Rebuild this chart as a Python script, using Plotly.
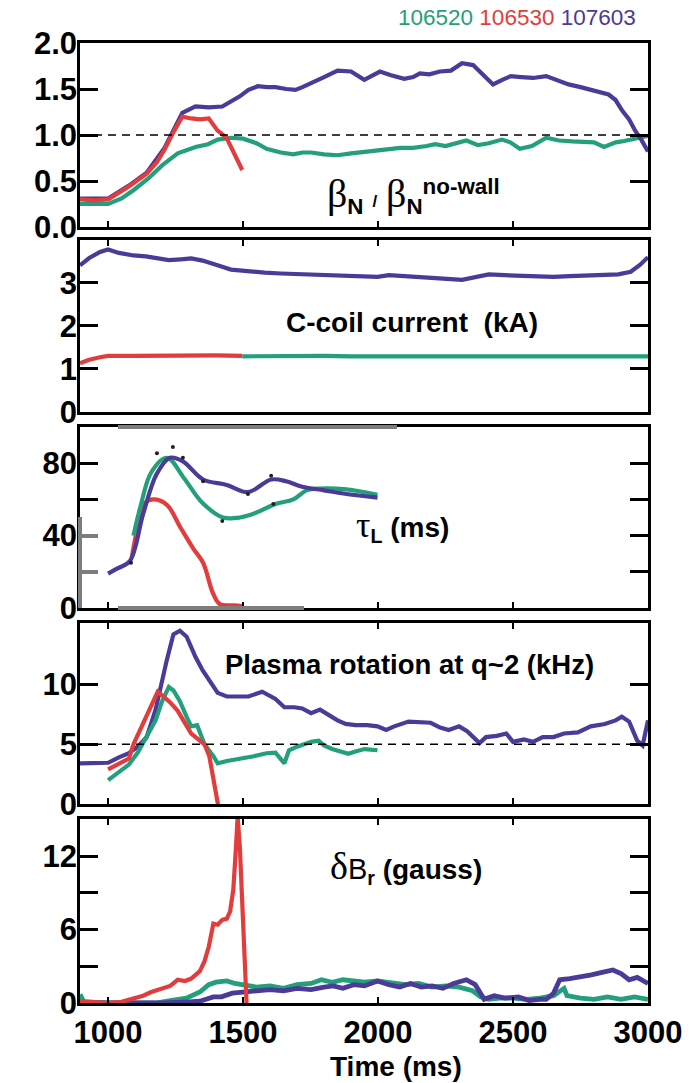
import plotly.graph_objects as go

# ---------------- shot colours ----------------
GREEN = "#23a07b"    # 106520
RED = "#e23d3d"      # 106530
PURPLE = "#4b3a97"   # 107603

# ---------------- panel 1: beta_N / beta_N(no-wall) ----------------
beta_green_t = [896, 1000, 1050, 1094, 1150, 1200, 1258, 1324, 1370, 1406, 1455, 1500, 1550, 1587,
                1640, 1686, 1720, 1752, 1800, 1850, 1900, 1949, 2000, 2050, 2081, 2130, 2180, 2212,
                2250, 2290, 2327, 2370, 2410, 2459, 2490, 2525, 2570, 2623, 2670, 2720, 2770, 2800,
                2837, 2880, 2903, 2950, 3000]
beta_green = [0.25, 0.25, 0.31, 0.40, 0.53, 0.67, 0.80, 0.87, 0.90, 0.95, 0.97, 0.96, 0.91, 0.85,
              0.81, 0.79, 0.81, 0.81, 0.79, 0.78, 0.80, 0.82, 0.83, 0.85, 0.86, 0.86, 0.88, 0.90,
              0.88, 0.91, 0.94, 0.89, 0.91, 0.95, 0.92, 0.85, 0.88, 0.97, 0.94, 0.93, 0.93, 0.92,
              0.87, 0.92, 0.93, 0.96, 0.99]

beta_red_t = [896, 950, 1000, 1040, 1077, 1110, 1143, 1180, 1209, 1240, 1275, 1308, 1340, 1373,
              1405, 1439, 1470, 1497]
beta_red = [0.30, 0.29, 0.30, 0.37, 0.44, 0.51, 0.58, 0.70, 0.84, 1.02, 1.20, 1.18, 1.17, 1.18,
            1.05, 0.97, 0.78, 0.62]

beta_purple_t = [896, 1000, 1077, 1143, 1209, 1250, 1275, 1324, 1373, 1423, 1455, 1488, 1520, 1554,
                 1590, 1620, 1660, 1694, 1720, 1752, 1800, 1850, 1900, 1949, 1980, 2007, 2048, 2097,
                 2130, 2155, 2190, 2229, 2270, 2311, 2352, 2390, 2426, 2460, 2492, 2530, 2574, 2623,
                 2660, 2706, 2750, 2788, 2820, 2854, 2880, 2903, 2930, 2952, 2975, 3000]
beta_purple = [0.31, 0.31, 0.45, 0.59, 0.86, 1.10, 1.24, 1.31, 1.30, 1.31, 1.36, 1.42, 1.49, 1.53,
               1.52, 1.52, 1.50, 1.49, 1.52, 1.56, 1.63, 1.70, 1.69, 1.60, 1.65, 1.69, 1.65, 1.61,
               1.63, 1.67, 1.66, 1.69, 1.70, 1.78, 1.76, 1.65, 1.55, 1.60, 1.64, 1.63, 1.62, 1.64,
               1.60, 1.55, 1.52, 1.49, 1.47, 1.44, 1.38, 1.27, 1.17, 1.05, 0.95, 0.82]

# ---------------- panel 2: C-coil current (kA) ----------------
coil_purple_t = [896, 930, 970, 1000, 1040, 1094, 1140, 1180, 1225, 1270, 1308, 1350, 1390, 1420,
                 1455, 1521, 1580, 1640, 1700, 1752, 1810, 1870, 1930, 1998, 2040, 2100, 2160, 2220,
                 2270, 2311, 2350, 2410, 2470, 2530, 2590, 2650, 2710, 2770, 2830, 2890, 2936, 2970,
                 3000]
coil_purple = [3.41, 3.58, 3.72, 3.78, 3.70, 3.64, 3.62, 3.58, 3.53, 3.55, 3.57, 3.52, 3.45, 3.38,
               3.31, 3.26, 3.24, 3.22, 3.21, 3.20, 3.18, 3.17, 3.15, 3.14, 3.18, 3.16, 3.15, 3.12,
               3.09, 3.07, 3.12, 3.20, 3.18, 3.16, 3.14, 3.14, 3.16, 3.18, 3.18, 3.20, 3.26, 3.42,
               3.60]

coil_red_t = [896, 930, 970, 1000, 1100, 1200, 1300, 1400, 1497]
coil_red = [1.13, 1.21, 1.27, 1.30, 1.30, 1.31, 1.30, 1.31, 1.30]

coil_green_t = [1497, 1600, 1700, 1800, 1900, 2000, 2100, 2200, 2300, 2400, 2500, 2600, 2700,
                2800, 2900, 3000]
coil_green = [1.29, 1.30, 1.29, 1.30, 1.29, 1.29, 1.30, 1.29, 1.30, 1.29, 1.29, 1.30, 1.29,
              1.29, 1.30, 1.29]

# ---------------- panel 3: tau_L (ms) ----------------
tau_purple_t = [1000, 1037, 1081, 1130, 1180, 1229, 1277, 1352, 1440, 1518, 1604, 1660, 1719,
                1800, 1883, 1998]
tau_purple = [19, 22, 26, 52, 74, 83, 81, 71, 68, 64, 71, 70, 67, 65, 63, 61]

tau_green_t = [1094, 1120, 1160, 1218, 1280, 1350, 1426, 1488, 1554, 1620, 1686, 1735, 1785,
               1883, 1998]
tau_green = [40, 56, 75, 83, 72, 58, 50, 50, 53, 57.5, 60, 65, 66, 65.5, 62.5]

tau_red_t = [1088, 1110, 1137, 1167, 1218, 1266, 1315, 1352, 1389, 1415, 1467, 1497]
tau_red = [28, 45, 58, 60, 57, 45, 33, 25, 8, 2, 1.5, 1]

tau_points_t = [1085, 1181, 1240, 1277, 1352, 1423, 1518, 1604, 1612]
tau_points = [25, 85.5, 89, 83, 70, 48, 63, 73, 57.5]

# ---------------- panel 4: plasma rotation at q~2 (kHz) ----------------
rot_purple_t = [896, 950, 1000, 1040, 1077, 1110, 1143, 1176, 1200, 1217, 1242, 1266, 1291, 1324,
                1350, 1373, 1406, 1440, 1480, 1520, 1571, 1600, 1620, 1653, 1690, 1719, 1752, 1785,
                1820, 1850, 1880, 1916, 1960, 1998, 2030, 2060, 2113, 2160, 2195, 2230, 2262, 2300,
                2330, 2376, 2400, 2440, 2475, 2500, 2540, 2574, 2610, 2650, 2689, 2740, 2788, 2840,
                2880, 2903, 2930, 2960, 2980, 3000]
rot_purple = [3.4, 3.4, 3.45, 3.9, 4.25, 4.8, 5.6, 7.9, 10.5, 12.0, 14.2, 14.5, 14.0, 12.3,
              11.2, 10.4, 9.3, 9.0, 9.0, 9.0, 9.4, 9.1, 8.8, 8.1, 8.1, 8.0, 7.6, 7.9,
              7.4, 7.0, 6.7, 6.6, 6.6, 6.5, 6.2, 6.5, 6.9, 6.8, 6.8, 6.4, 6.2, 6.5,
              6.1, 5.1, 5.6, 5.7, 5.9, 5.2, 5.4, 5.2, 5.6, 5.6, 5.9, 6.0, 6.5, 6.7,
              7.0, 7.3, 6.9, 5.3, 4.9, 7.0]

rot_green_t = [1000, 1040, 1077, 1110, 1143, 1176, 1200, 1225, 1242, 1266, 1291, 1308, 1330, 1357,
               1390, 1406, 1440, 1470, 1500, 1540, 1587, 1620, 1653, 1670, 1700, 1752, 1780, 1800,
               1830, 1860, 1890, 1916, 1950, 1998]
rot_green = [2.0, 2.7, 3.3, 4.3, 5.6, 7.0, 8.6, 9.8, 9.5, 8.6, 7.3, 6.5, 6.6, 5.0,
             4.0, 3.4, 3.6, 3.7, 3.8, 4.0, 4.25, 4.3, 3.4, 4.5, 4.8, 5.2, 5.3, 4.9,
             4.6, 4.4, 4.2, 4.4, 4.6, 4.5]

rot_red_t = [1000, 1040, 1077, 1094, 1130, 1160, 1184, 1200, 1230, 1258, 1291, 1308, 1340, 1357,
             1375, 1390, 1410]
rot_red = [2.9, 3.4, 3.8, 5.0, 6.8, 8.3, 9.4, 9.1, 8.5, 7.8, 6.6, 5.9, 5.3, 5.0,
           4.0, 2.0, -0.4]

# ---------------- panel 5: delta B_r (gauss) ----------------
br_red_t = [896, 950, 1000, 1050, 1094, 1130, 1160, 1200, 1230, 1258, 1285, 1308, 1340, 1357,
            1373, 1390, 1406, 1423, 1440, 1452, 1464, 1473, 1480, 1488, 1500, 1513]
br_red = [0.15, 0.1, 0.0, 0.1, 0.4, 0.6, 0.9, 1.2, 1.4, 1.9, 1.8, 2.0, 2.6, 3.4,
          4.6, 6.5, 6.4, 6.8, 6.9, 7.5, 9.3, 12.5, 15.2, 12.8, 6.0, 0.0]

br_green_t = [896, 910, 1000, 1100, 1176, 1230, 1290, 1340, 1373, 1400, 1440, 1470, 1500, 1550,
              1600, 1650, 1700, 1752, 1790, 1830, 1870, 1910, 1950, 1998, 2050, 2100, 2150, 2200,
              2250, 2300, 2350, 2380, 2409, 2450, 2500, 2550, 2600, 2650, 2689, 2700, 2750, 2800,
              2850, 2900, 2950, 3000]
br_green = [0.7, 0.1, 0.0, 0.0, 0.0, 0.2, 0.4, 0.9, 1.5, 1.7, 1.8, 1.6, 1.5, 1.3,
            1.4, 1.2, 1.5, 1.6, 1.9, 1.7, 1.9, 1.8, 1.7, 1.8, 1.6, 1.5, 1.6, 1.3,
            1.4, 1.3, 1.0, 0.5, 0.3, 0.4, 0.4, 0.3, 0.4, 0.6, 1.2, 0.6, 0.4, 0.3,
            0.5, 0.3, 0.5, 0.3]

br_purple_t = [896, 1000, 1100, 1200, 1300, 1340, 1390, 1420, 1460, 1505, 1550, 1600, 1650, 1700,
               1752, 1800, 1834, 1870, 1910, 1950, 1998, 2040, 2080, 2120, 2160, 2200, 2240, 2280,
               2327, 2360, 2393, 2430, 2470, 2520, 2560, 2600, 2623, 2650, 2673, 2710, 2750, 2790,
               2830, 2870, 2900, 2930, 2960, 3000]
br_purple = [0.0, 0.0, 0.0, 0.0, 0.1, 0.15, 0.5, 0.5, 0.8, 0.95, 1.0, 1.1, 1.0, 1.2,
             1.1, 1.3, 1.4, 1.2, 1.5, 1.4, 1.8, 1.5, 1.3, 1.6, 1.3, 1.4, 1.2, 1.6,
             1.9, 1.5, 0.3, 0.6, 0.4, 0.5, 0.2, 0.3, 0.3, 0.8, 1.9, 2.0, 2.2, 2.3,
             2.5, 2.7, 2.4, 1.9, 2.1, 1.6]

# ---------------- axis ticks ----------------
time_ticks = [1000, 1500, 2000, 2500, 3000]
time_labels = ["1000", "1500", "2000", "2500", "3000"]
beta_ticks, beta_labels = [0, 0.5, 1.0, 1.5, 2.0], ["0.0", "0.5", "1.0", "1.5", "2.0"]
coil_ticks, coil_labels = [0, 1, 2, 3], ["0", "1", "2", "3"]
tau_ticks, tau_labels, tau_minor = [0, 40, 80], ["0", "40", "80"], [20, 60]
rot_ticks, rot_labels = [0, 5, 10], ["0", "5", "10"]
br_ticks, br_labels, br_minor = [0, 6, 12], ["0", "6", "12"], [3, 9]

# ---------------- geometry (pixels of the 695 x 1083 page) ----------------
W, H = 695, 1083
L, R, T, B = 80, 648, 43, 1003          # plot-area edges


def fx(px):
    return (px - L) / (R - L)


def fy(py):
    return (B - py) / (B - T)


panel_px = [(43, 227), (240, 411.7), (427, 608), (623, 804), (819, 1003)]
domains = [[fy(b), fy(t)] for t, b in panel_px]

SANS = "Liberation Sans, Arial, sans-serif"
SERIF_STYLE = "font-family:Liberation Serif, Times New Roman, serif;font-weight:normal"
tickfont = dict(family=SANS, size=31, color="black", weight="bold")

fig = go.Figure()


def line(panel, t, v, color, shape="linear", width=4.2):
    s = "" if panel == 1 else str(panel)
    fig.add_trace(go.Scatter(x=t, y=v, xaxis="x" + s, yaxis="y" + s, mode="lines",
                             line=dict(color=color, width=width, shape=shape, smoothing=1.0),
                             showlegend=False, hoverinfo="skip"))


line(1, beta_green_t, beta_green, GREEN)
line(1, beta_purple_t, beta_purple, PURPLE)
line(1, beta_red_t, beta_red, RED)

line(2, coil_purple_t, coil_purple, PURPLE)
line(2, coil_red_t, coil_red, RED)
line(2, coil_green_t, coil_green, GREEN)

line(3, tau_red_t, tau_red, RED, "spline")
line(3, tau_green_t, tau_green, GREEN, "spline")
line(3, tau_purple_t, tau_purple, PURPLE, "spline")
fig.add_trace(go.Scatter(x=tau_points_t, y=tau_points, xaxis="x3", yaxis="y3", mode="markers",
                         marker=dict(color="#222222", size=4), showlegend=False, hoverinfo="skip"))

line(4, rot_purple_t, rot_purple, PURPLE)
line(4, rot_green_t, rot_green, GREEN)
line(4, rot_red_t, rot_red, RED)

line(5, br_green_t, br_green, GREEN, width=4.8)
line(5, br_purple_t, br_purple, PURPLE, width=4.8)
line(5, br_red_t, br_red, RED)

# ---------------- axes ----------------
y_ranges = [[0, 2], [0, 4], [0, 100], [0, 15.15], [0, 15.05]]
y_ticks = [(beta_ticks, beta_labels, None), (coil_ticks, coil_labels, None),
           (tau_ticks, tau_labels, tau_minor), (rot_ticks, rot_labels, None),
           (br_ticks, br_labels, br_minor)]
x_mirror = [True, True, True, "ticks", "ticks"]

layout = dict(width=W, height=H, margin=dict(l=L, r=W - R, t=T, b=H - B),
              paper_bgcolor="white", plot_bgcolor="white", showlegend=False)

for i in range(5):
    s = "" if i == 0 else str(i + 1)
    xa = dict(domain=[0, 1], range=[896, 3000], anchor="y" + s, showgrid=False, zeroline=False,
              showline=True, linecolor="black", linewidth=2.5, mirror=x_mirror[i],
              ticks="inside", ticklen=6, tickwidth=1.5, tickcolor="black",
              tickvals=time_ticks, ticktext=time_labels, showticklabels=(i == 4),
              tickfont=tickfont, ticklabelstandoff=0)
    if i == 1:
        xa["side"] = "top"
    tv, tt, minor = y_ticks[i]
    ya = dict(domain=domains[i], range=y_ranges[i], anchor="x" + s, showgrid=False,
              zeroline=False, showline=True, linecolor="black", linewidth=2.5, mirror="ticks",
              ticks="inside", ticklen=18, tickwidth=3, tickcolor="black",
              tickvals=tv, ticktext=tt, tickfont=tickfont, ticklabelstandoff=-6)
    if minor:
        ya["minor"] = dict(tickvals=minor, ticks="inside", ticklen=18, tickwidth=3,
                           tickcolor="black", showgrid=False)
    layout["xaxis" + s] = xa
    layout["yaxis" + s] = ya

fig.update_layout(**layout)

# dashed reference levels
fig.add_shape(type="line", xref="x", yref="y", x0=896, x1=3000, y0=1, y1=1,
              line=dict(color="black", width=1.6, dash="8px,6px"))
fig.add_shape(type="line", xref="x4", yref="y4", x0=896, x1=3000, y0=5, y1=5,
              line=dict(color="black", width=1.6, dash="8px,6px"))

# grey frame segments of the tau_L panel
GREY = "#7d7d7d"
for x0, x1, y0, y1 in [(118, 397, 427, 427), (118, 304, 608, 608), (80, 80, 517, 608),
                       (80, 98, 572, 572), (80, 98, 536, 536)]:
    fig.add_shape(type="line", xref="paper", yref="paper", x0=fx(x0), x1=fx(x1),
                  y0=fy(y0), y1=fy(y1), line=dict(color=GREY, width=4))


def label(px, py, text, size, anchor="left"):
    fig.add_annotation(xref="paper", yref="paper", x=fx(px), y=fy(py), text=text,
                       showarrow=False, xanchor=anchor, yanchor="middle",
                       font=dict(family=SANS, size=size, color="black", weight="bold"))


def greek(ch, size):
    return f'<span style="{SERIF_STYLE};font-size:{size}px">{ch}</span>'


# shot numbers
fig.add_annotation(xref="paper", yref="paper", x=fx(638), y=fy(18), xanchor="right",
                   yanchor="middle", showarrow=False,
                   text=(f'<span style="color:{GREEN}">106520</span> '
                         f'<span style="color:{RED}">106530</span> '
                         f'<span style="color:{PURPLE}">107603</span>'),
                   font=dict(family=SANS, size=22.5))

# panel 1 label: beta_N / beta_N^no-wall
label(325, 195,
      greek("β", 40) + '<sub>N</sub> <span style="font-size:17px">/</span> '
      + greek("β", 40) + "<sub>N</sub><sup>no-wall</sup>", 32)

# panel 2 label
label(412, 323, "C-coil current  (kA)", 28, anchor="center")

# panel 3 label: tau_L (ms)
label(354, 526, greek("τ", 36) + "<sub>L</sub> (ms)", 28)

# panel 4 label
label(409, 664, "Plasma rotation at q~2 (kHz)", 27.5, anchor="center")

# panel 5 label: delta B_r (gauss)
label(328, 867, greek("δ", 38) + '<span style="font-weight:normal;font-size:29px">B</span>'
      + "<sub>r</sub> (gauss)", 28)

# time axis title
label(396, 1066, "Time (ms)", 28, anchor="center")

fig.write_html("out.html")
